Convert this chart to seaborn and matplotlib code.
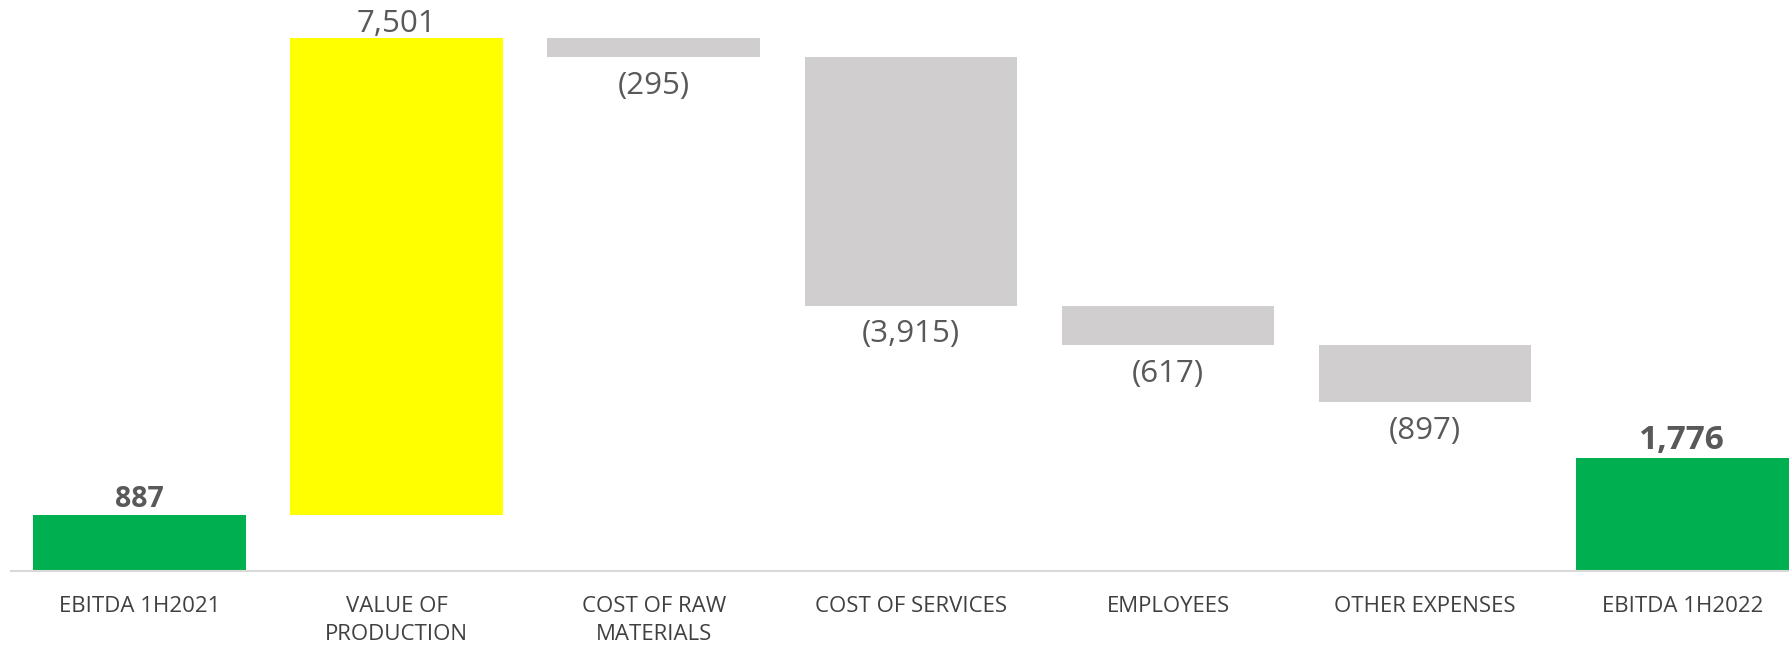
import matplotlib
matplotlib.use("Agg")
import matplotlib.pyplot as plt
import seaborn as sns
import numpy as np
import pandas as pd

categories = ["EBITDA 1H2021", "VALUE OF\nPRODUCTION", "COST OF RAW\nMATERIALS",
              "COST OF SERVICES", "EMPLOYEES", "OTHER EXPENSES", "EBITDA 1H2022"]
values = [887, 7501, -295, -3915, -617, -897, 1776]
kinds = ["total", "delta", "delta", "delta", "delta", "delta", "total"]
value_labels = ["887", "7,501", "(295)", "(3,915)", "(617)", "(897)", "1,776"]
bold_labels = [True, False, False, False, False, False, True]
colors = ["#00B050", "#FFFF00", "#D0CECE", "#D0CECE", "#D0CECE", "#D0CECE", "#00B050"]

# waterfall geometry derived from the values
bottoms, heights = [], []
running = 0
for v, k in zip(values, kinds):
    if k == "total":
        bottoms.append(0)
        heights.append(v)
        running = v
    else:
        if v >= 0:
            bottoms.append(running)
            heights.append(v)
        else:
            bottoms.append(running + v)
            heights.append(-v)
        running += v

df = pd.DataFrame({"category": categories, "height": heights, "bottom": bottoms})

sns.set_theme(style="white")
plt.rcParams["font.family"] = ["Open Sans", "DejaVu Sans"]

fig = plt.figure(figsize=(17.89, 6.46), dpi=100)
ax = fig.add_axes([11 / 1789, 1 - 571 / 646, 1 - 11 / 1789, 571 / 646])

sns.barplot(data=df, x="category", y="height", order=categories, ax=ax,
            width=0.827, color="#D0CECE", saturation=1, errorbar=None)

for p, b, c in zip(ax.patches, bottoms, colors):
    p.set_y(b)
    p.set_facecolor(c)
    p.set_edgecolor("none")

ax.set_xlim(-0.5, 6.415)
ax.set_ylim(0, 8986)
ax.set_xlabel("")
ax.set_ylabel("")
ax.set_yticks([])
for s in ["top", "right", "left"]:
    ax.spines[s].set_visible(False)
ax.spines["bottom"].set_color("#D9D9D9")
ax.spines["bottom"].set_linewidth(1.5)
ax.tick_params(axis="x", length=0, pad=18, labelsize=16, labelcolor="#404040")
for t in ax.get_xticklabels():
    t.set_multialignment("center")
    t.set_linespacing(1.43)

for i, (v, k, lab, bld) in enumerate(zip(values, kinds, value_labels, bold_labels)):
    top = bottoms[i] + heights[i]
    bot = bottoms[i]
    if v >= 0:
        if bld:
            size = 20.5 if v < 1000 else 24
            ax.annotate(lab, (i, top), xytext=(0, 0.5), textcoords="offset points",
                        ha="center", va="bottom", fontsize=size, fontweight="bold",
                        color="#595959")
        else:
            ax.annotate(lab, (i, top), xytext=(0, -1), textcoords="offset points",
                        ha="center", va="bottom", fontsize=22.5, color="#595959")
    else:
        ax.annotate(lab, (i, bot), xytext=(0, -10), textcoords="offset points",
                    ha="center", va="top", fontsize=22.5, color="#595959")

fig.savefig("out.png", dpi=100)
